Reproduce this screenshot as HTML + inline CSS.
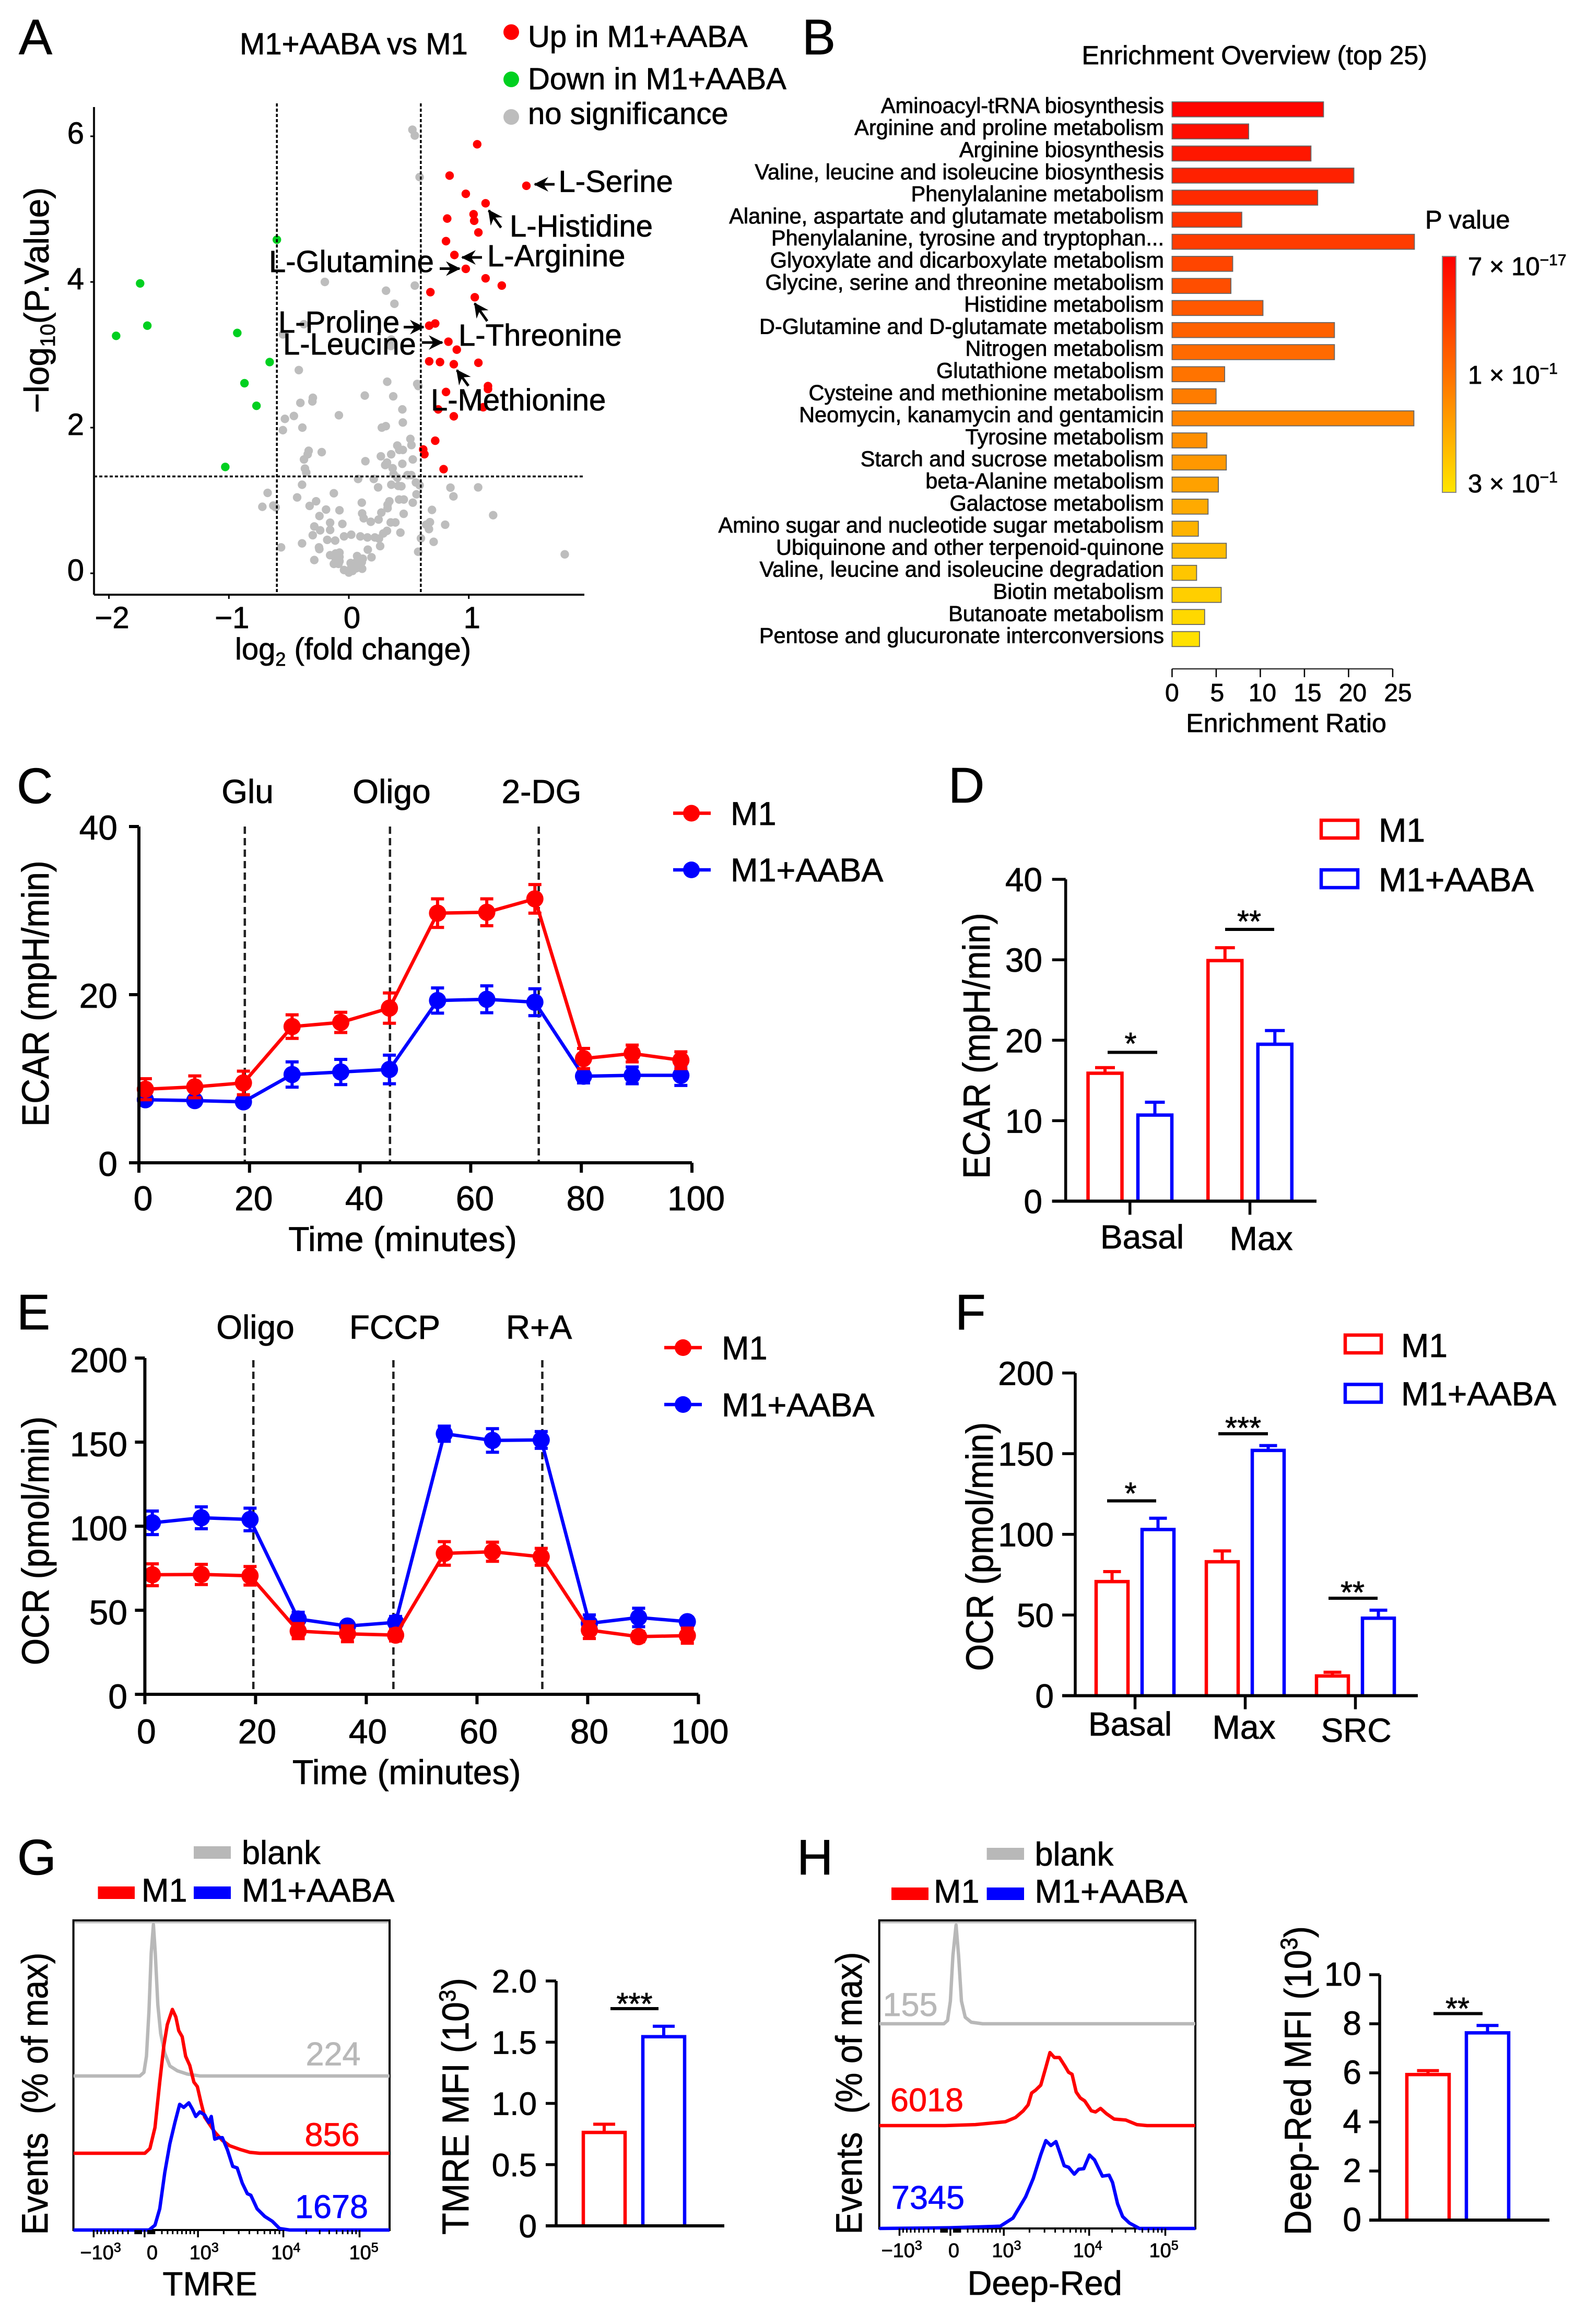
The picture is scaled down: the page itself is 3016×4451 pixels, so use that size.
<!DOCTYPE html>
<html lang="en">
<head>
<meta charset="utf-8">
<title>M1+AABA metabolism figure</title>
<style>
html,body{margin:0;padding:0;background:#fff;}
svg{display:block;}
text{font-family:"Liberation Sans",Arial,sans-serif;fill:#000;stroke:#000;stroke-width:0.8px;}
</style>
</head>
<body>
<svg id="fig" xmlns="http://www.w3.org/2000/svg" width="3016" height="4451" viewBox="0 0 3016 4451">
<defs>
<marker id="stealth" markerUnits="userSpaceOnUse" markerWidth="40" markerHeight="40" refX="26" refY="14" orient="auto">
<path d="M0,0 L28,14 L0,28 L9,14 Z" fill="#000"/>
</marker>
<linearGradient id="pgrad" x1="0" y1="0" x2="0" y2="1">
<stop offset="0" stop-color="#ff0000"/><stop offset="0.5" stop-color="#ff7000"/><stop offset="1" stop-color="#ffe600"/>
</linearGradient>
</defs>
<rect x="0" y="0" width="3016" height="4451" fill="#fff"/>

<g id="panelA"></g>
<g>
<text x="36" y="104" font-size="96">A</text>
<text x="459" y="104" font-size="58">M1+AABA vs M1</text>
<circle cx="979" cy="61.5" r="15" fill="#ff0000"/>
<text x="1011" y="90" font-size="58">Up in M1+AABA</text>
<circle cx="979" cy="152" r="15" fill="#00d020"/>
<text x="1011" y="171" font-size="58">Down in M1+AABA</text>
<circle cx="979" cy="224" r="15" fill="#bdbdbd"/>
<text x="1011" y="237.6" font-size="58">no significance</text>
<text x="676" y="1263" font-size="58" text-anchor="middle">log<tspan dy="12" font-size="36">2</tspan><tspan dy="-12"> (fold change)</tspan></text>
<text transform="translate(93,575) rotate(-90)" font-size="66" text-anchor="middle">−log<tspan dy="12" font-size="40">10</tspan><tspan dy="-12">(P.Value)</tspan></text>
<g stroke="#000" stroke-width="5" fill="none">
<line x1="1062" y1="353" x2="1024" y2="353" marker-end="url(#stealth)"/>
<line x1="959.5" y1="436" x2="936" y2="403" marker-end="url(#stealth)"/>
<line x1="923" y1="493" x2="885" y2="493" marker-end="url(#stealth)"/>
<line x1="842" y1="514.5" x2="880" y2="514.5" marker-end="url(#stealth)"/>
<line x1="773" y1="626.5" x2="811" y2="626.5" marker-end="url(#stealth)"/>
<line x1="808" y1="656" x2="847" y2="656" marker-end="url(#stealth)"/>
<line x1="933" y1="615" x2="909" y2="581" marker-end="url(#stealth)"/>
<line x1="897" y1="739" x2="875" y2="709" marker-end="url(#stealth)"/>
</g>
<text x="1069.5" y="367.5" font-size="58">L-Serine</text>
<text x="976" y="453" font-size="58">L-Histidine</text>
<text x="933" y="510" font-size="58">L-Arginine</text>
<text x="515" y="521" font-size="58">L-Glutamine</text>
<text x="533" y="637" font-size="58">L-Proline</text>
<text x="542" y="679" font-size="58">L-Leucine</text>
<text x="878" y="662" font-size="58">L-Threonine</text>
<text x="825" y="786" font-size="58">L-Methionine</text>
</g>

<g id="panelB"></g>
<g>
<text x="1536" y="104" font-size="96">B</text>
<text x="2071.5" y="123" font-size="50">Enrichment Overview (top 25)</text>
<text x="2463" y="1402" font-size="50" text-anchor="middle">Enrichment Ratio</text>
<text x="2729" y="437.5" font-size="49">P value</text>
<rect x="2762" y="491" width="26" height="452" fill="url(#pgrad)" stroke="#888" stroke-width="2"/>
<text x="2811" y="527" font-size="49">7 × 10<tspan dy="-19" font-size="30">−17</tspan></text>
<text x="2811" y="735" font-size="49">1 × 10<tspan dy="-19" font-size="30">−1</tspan></text>
<text x="2811" y="943" font-size="49">3 × 10<tspan dy="-19" font-size="30">−1</tspan></text>
</g>

<g id="panelC"></g>
<g>
<text x="32" y="1538" font-size="96">C</text>
<text x="474" y="1538" font-size="64" text-anchor="middle">Glu</text>
<text x="750" y="1538" font-size="64" text-anchor="middle">Oligo</text>
<text x="1037" y="1538" font-size="64" text-anchor="middle">2-DG</text>
<line x1="1289" y1="1557.5" x2="1361" y2="1557.5" stroke="#f00" stroke-width="6.5"/>
<circle cx="1324" cy="1557.5" r="16" fill="#f00"/>
<text x="1399" y="1580" font-size="63">M1</text>
<line x1="1289" y1="1666" x2="1361" y2="1666" stroke="#00f" stroke-width="6.5"/>
<circle cx="1324" cy="1666" r="16" fill="#00f"/>
<text x="1399" y="1688" font-size="63">M1+AABA</text>
<text x="771" y="2396" font-size="66" text-anchor="middle">Time (minutes)</text>
<text transform="translate(93,1903) rotate(-90) scale(1,1.1)" font-size="66" text-anchor="middle">ECAR (mpH/min)</text>
</g>

<g id="panelD"></g>
<g>
<text x="1816" y="1537" font-size="96">D</text>
<rect x="2530" y="1571" width="70" height="34" fill="#fff" stroke="#f00" stroke-width="6.5"/>
<text x="2640" y="1612" font-size="64">M1</text>
<rect x="2530" y="1666" width="70" height="34" fill="#fff" stroke="#00f" stroke-width="6.5"/>
<text x="2640" y="1707" font-size="64">M1+AABA</text>
<text transform="translate(1895,2003) rotate(-90) scale(1,1.1)" font-size="66" text-anchor="middle">ECAR (mpH/min)</text>
<line x1="2121" y1="2015.5" x2="2216" y2="2015.5" stroke="#000" stroke-width="6"/>
<text x="2165" y="2019" font-size="59" text-anchor="middle">*</text>
<line x1="2346" y1="1780" x2="2440" y2="1780" stroke="#000" stroke-width="6"/>
<text x="2392" y="1785" font-size="59" text-anchor="middle">**</text>
</g>

<g id="panelE"></g>
<g>
<text x="32" y="2546" font-size="96">E</text>
<text x="489" y="2564" font-size="64" text-anchor="middle">Oligo</text>
<text x="756" y="2564" font-size="64" text-anchor="middle">FCCP</text>
<text x="1032" y="2564" font-size="64" text-anchor="middle">R+A</text>
<line x1="1272" y1="2581" x2="1344" y2="2581" stroke="#f00" stroke-width="6.5"/>
<circle cx="1308" cy="2581" r="16" fill="#f00"/>
<text x="1382" y="2603.5" font-size="63">M1</text>
<line x1="1272" y1="2690" x2="1344" y2="2690" stroke="#00f" stroke-width="6.5"/>
<circle cx="1308" cy="2690" r="16" fill="#00f"/>
<text x="1382" y="2712.5" font-size="63">M1+AABA</text>
<text x="778.7" y="3417" font-size="66" text-anchor="middle">Time (minutes)</text>
<text transform="translate(93,2951) rotate(-90) scale(1,1.1)" font-size="66" text-anchor="middle">OCR (pmol/min)</text>
</g>

<g id="panelF"></g>
<g>
<text x="1829" y="2546" font-size="96">F</text>
<rect x="2576" y="2557" width="69" height="34" fill="#fff" stroke="#f00" stroke-width="6.5"/>
<text x="2683" y="2599" font-size="64">M1</text>
<rect x="2576" y="2651.5" width="69" height="34" fill="#fff" stroke="#00f" stroke-width="6.5"/>
<text x="2683" y="2691.5" font-size="64">M1+AABA</text>
<text transform="translate(1901,2962) rotate(-90) scale(1,1.1)" font-size="66" text-anchor="middle">OCR (pmol/min)</text>
<line x1="2120" y1="2874.5" x2="2214" y2="2874.5" stroke="#000" stroke-width="6"/>
<text x="2165" y="2880.5" font-size="59" text-anchor="middle">*</text>
<line x1="2333" y1="2746" x2="2428" y2="2746" stroke="#000" stroke-width="6"/>
<text x="2380.6" y="2755" font-size="59" text-anchor="middle">***</text>
<line x1="2544" y1="3061" x2="2638" y2="3061" stroke="#000" stroke-width="6"/>
<text x="2590" y="3070" font-size="59" text-anchor="middle">**</text>
</g>

<g id="panelG"></g>
<g>
<text x="33" y="3590" font-size="96">G</text>
<rect x="371" y="3536" width="71" height="24" fill="#b8b8b8"/>
<text x="463" y="3570" font-size="63">blank</text>
<rect x="187.5" y="3613" width="70.5" height="24" fill="#f00"/>
<text x="271" y="3642" font-size="63">M1</text>
<rect x="371" y="3613" width="71" height="24" fill="#00f"/>
<text x="463" y="3642" font-size="63">M1+AABA</text>
<text x="638" y="3955.5" font-size="63" text-anchor="middle" style="fill:#b8b8b8;stroke:#b8b8b8">224</text>
<text x="636" y="4110" font-size="63" text-anchor="middle" style="fill:#f00;stroke:#f00">856</text>
<text x="635" y="4248" font-size="63" text-anchor="middle" style="fill:#00f;stroke:#00f">1678</text>
<text x="402" y="4396" font-size="64" text-anchor="middle">TMRE</text>
<text transform="translate(91,4010) rotate(-90) scale(1,1.1)" font-size="64" text-anchor="middle">Events&#160;&#160;(% of max)</text>
<text transform="translate(897,4034) rotate(-90) scale(1,1.05)" font-size="68" text-anchor="middle">TMRE MFI (10<tspan dy="-24" font-size="42">3</tspan><tspan dy="24">)</tspan></text>
<line x1="1169" y1="3847" x2="1261" y2="3847" stroke="#000" stroke-width="6"/>
<text x="1215" y="3858" font-size="59" text-anchor="middle">***</text>
</g>

<g id="panelH"></g>
<g>
<text x="1526" y="3590" font-size="96">H</text>
<rect x="1889.6" y="3539" width="71.4" height="23" fill="#b8b8b8"/>
<text x="1981.5" y="3573" font-size="63">blank</text>
<rect x="1707" y="3615" width="71" height="24" fill="#f00"/>
<text x="1788" y="3644" font-size="63">M1</text>
<rect x="1889.6" y="3615" width="71.4" height="24" fill="#00f"/>
<text x="1981.5" y="3644" font-size="63">M1+AABA</text>
<text x="1743" y="3861" font-size="63" text-anchor="middle" style="fill:#b8b8b8;stroke:#b8b8b8">155</text>
<text x="1775" y="4043.5" font-size="63" text-anchor="middle" style="fill:#f00;stroke:#f00">6018</text>
<text x="1777" y="4230.5" font-size="63" text-anchor="middle" style="fill:#00f;stroke:#00f">7345</text>
<text x="2000.6" y="4395" font-size="65" text-anchor="middle">Deep-Red</text>
<text transform="translate(1650,4009) rotate(-90) scale(1,1.1)" font-size="64" text-anchor="middle">Events&#160;&#160;(% of max)</text>
<text transform="translate(2510,3985) rotate(-90) scale(1,1.08)" font-size="66" text-anchor="middle">Deep-Red MFI (10<tspan dy="-24" font-size="42">3</tspan><tspan dy="24">)</tspan></text>
<line x1="2745" y1="3856.5" x2="2839" y2="3856.5" stroke="#000" stroke-width="6"/>
<text x="2791" y="3867" font-size="59" text-anchor="middle">**</text>
</g>
</svg>

<script>
/* ---------- Panel A data ---------- */
const aUpX=[1.07,0.84,1.48,0.975,1.14,1.04,1.045,0.82,1.08,0.81,0.88,0.975,1.14,1.275,0.68,1.05,0.72,0.67,0.83,0.90,0.67,0.76,0.875,1.08,0.81,1.16,1.16,0.745,1.12,0.875,0.72,0.62,0.63,0.79];
const aUpY=[5.89,5.46,5.32,5.21,5.08,4.93,4.84,4.87,4.68,4.56,4.37,4.18,4.05,3.95,3.86,3.79,3.43,3.40,3.18,3.07,2.91,2.90,2.87,2.89,2.49,2.57,2.53,2.25,2.28,2.155,1.82,1.70,1.635,1.43];
const aDownX=[-0.60,-1.74,-1.68,-1.94,-0.93,-0.66,-0.87,-0.77,-1.03];
const aDownY=[4.58,3.98,3.40,3.26,3.30,2.90,2.61,2.30,1.46];
const aNsX=[0.53,0.55,0.59,0.55,-0.2,0.31,0.38,-0.375,-0.55,0.354,0.35,-0.417,0.32,0.57,0.58,0.133,0.37,-0.3,-0.304,-0.404,0.446,-0.083,-0.458,-0.533,0.45,-0.3875,-0.55,0.308,0.275,
0.513,0.522,0.404,0.42,0.45,0.353,0.267,0.533,0.138,0.446,0.318,0.303,0.365,0.373,0.404,0.489,0.52,0.077,0.208,0.559,0.59,0.354,0.412,0.438,0.244,0.847,1.078,0.872,0.564,0.419,0.458,0.338,0.323,0.323,0.271,0.533,0.108,0.457,0.248,0.111,0.124,0.183,0.349,0.388,0.693,0.676,0.645,0.668,0.803,1.203,0.318,0.287,0.43,0.02,-0.04,0.096,0.155,0.217,0.251,0.261,0.601,0.707,0.578,0.158,0.189,0.069,0.116,0.108,0.062,0.015,0.022,0.111,0.062,0.031,-0.008,0,-0.04,-0.078,-0.11,-0.156,-0.078,-0.11,-0.078,-0.125,-0.086,-0.288,-0.249,-0.246,-0.39,-0.565,-0.18,-0.114,-0.301,-0.239,-0.288,-0.156,-0.156,-0.054,-0.245,-0.19,-0.078,-0.327,-0.273,-0.125,-0.431,-0.39,-0.677,-0.721,-0.63,-0.61,-0.355,-0.366,-0.374,-0.343,-0.335,-0.226,1.8];
const aNsY=[6.09,6.01,5.44,3.95,4.0,3.88,3.70,3.42,3.28,3.21,3.12,2.79,2.63,2.60,2.57,2.44,2.43,2.41,2.36,2.34,2.25,2.17,2.16,2.12,2.07,2.0,1.965,2.02,2.0,
1.845,1.76,1.754,1.694,1.694,1.634,1.606,1.563,1.539,1.503,1.52,1.486,1.443,1.36,1.312,1.348,1.348,1.295,1.295,1.247,1.209,1.216,1.2,1.195,1.18,1.176,1.18,1.056,1.085,1.013,1.013,0.989,0.941,0.894,0.834,0.97,0.97,0.817,0.738,0.822,0.755,0.707,0.698,0.698,0.87,0.702,0.667,0.607,0.667,0.798,0.583,0.547,0.559,0.53,0.507,0.507,0.492,0.492,0.476,0.373,0.48,0.432,0.296,0.325,0.22,0.237,0.2,0.153,0.153,0.141,0.093,0.062,0.069,0.033,0.033,0.01,0.045,0.284,0.272,0.249,0.225,0.2,0.165,0.129,0.129,0.182,0.356,0.332,0.411,0.356,0.459,0.449,0.523,0.59,0.643,0.595,0.695,0.678,0.786,0.875,0.865,0.925,0.989,1.099,1.042,1.216,1.104,0.913,0.93,0.906,1.383,1.438,1.563,1.634,1.682,1.663,0.26];
const aXTicks=[-2,-1,0,1];
const aYTicks=[0,2,4,6];
const aFcCutoffs=[-0.6,0.6];
const aPCutoff=1.33;

/* ---------- Panel B data ---------- */
const bPathways=["Aminoacyl-tRNA biosynthesis","Arginine and proline metabolism","Arginine biosynthesis","Valine, leucine and isoleucine biosynthesis","Phenylalanine metabolism","Alanine, aspartate and glutamate metabolism","Phenylalanine, tyrosine and tryptophan...","Glyoxylate and dicarboxylate metabolism","Glycine, serine and threonine metabolism","Histidine metabolism","D-Glutamine and D-glutamate metabolism","Nitrogen metabolism","Glutathione metabolism","Cysteine and methionine metabolism","Neomycin, kanamycin and gentamicin","Tyrosine metabolism","Starch and sucrose metabolism","beta-Alanine metabolism","Galactose metabolism","Amino sugar and nucleotide sugar metabolism","Ubiquinone and other terpenoid-quinone","Valine, leucine and isoleucine degradation","Biotin metabolism","Butanoate metabolism","Pentose and glucuronate interconversions"];
const bRatios=[17.16,8.68,15.74,20.6,16.5,7.9,27.46,6.87,6.67,10.3,18.4,18.4,5.96,4.99,27.4,3.95,6.15,5.25,4.08,2.98,6.15,2.78,5.57,3.69,3.11];
const bTicks=[0,5,10,15,20,25];

/* ---------- Panel C data ---------- */
const cTime=[1.17,10.1,18.9,27.7,36.5,45.3,54,62.9,71.6,80.4,89.2,98];
const cM1=[8.75,9.03,9.5,16.2,16.7,18.4,29.7,29.8,31.4,12.4,13,12.2];
const cM1Err=[1.25,1.3,1.4,1.4,1.2,1.8,1.7,1.6,1.7,1.2,1,1];
const cAaba=[7.5,7.4,7.25,10.5,10.8,11.1,19.3,19.45,19.1,10.3,10.4,10.4];
const cAabaErr=[0.5,0.5,0.5,1.5,1.5,1.7,1.5,1.6,1.6,0.8,1,1.2];
const cInjections=[19.15,45.4,72.3];
const cXTicks=[0,20,40,60,80,100];
const cYTicks=[0,20,40];

/* ---------- Panel D data ---------- */
const dCategories=["Basal","Max"];
const dM1=[15.9,29.9];
const dM1Err=[0.7,1.6];
const dAaba=[10.7,19.5];
const dAabaErr=[1.6,1.7];
const dYTicks=[0,10,20,30,40];

/* ---------- Panel E data ---------- */
const eTime=[1.35,10.2,19,27.7,36.6,45.3,54.1,62.8,71.6,80.3,89.2,98];
const eM1=[71.1,71.3,70.5,37.6,36,35.2,83.8,84.8,81.8,38.2,34.3,34.9];
const eM1Err=[6.5,6,5.5,4.5,4.7,3.5,7,5.7,5,5,3,4.5];
const eAaba=[102,105,104,44.8,40.6,42.8,155,151,151.3,42.2,45.7,43.2];
const eAabaErr=[7,6.5,6.7,4,2,3.5,4.5,7,5,5,5.5,2.5];
const eInjections=[19.6,44.9,71.8];
const eXTicks=[0,20,40,60,80,100];
const eYTicks=[0,50,100,150,200];

/* ---------- Panel F data ---------- */
const fCategories=["Basal","Max","SRC"];
const fM1=[70.7,83,12.2];
const fM1Err=[6.2,6.7,2.3];
const fAaba=[103,152,48];
const fAabaErr=[7,3,5];
const fYTicks=[0,50,100,150,200];

/* ---------- Panel G data ---------- */
const gBlankCh=[0,210,223,231,239,246,253,259,267,276,289,305,329,360,400,1000];
const gBlankH=[0,0,2.4,13,43,81,100,81,47,28,15,6.6,3.4,1.3,0,0];
const gM1Ch=[0,226,242,258,273,286,297,313,324,333,344,355,368,381,392,403,415,431,447,471,494,526,558,589,1000];
const gM1H=[0,0,3.2,17,47,71,85,95,90,81,77,64,58,47,44,34,24,19,14,8.5,5,2.6,0.6,0,0];
const gAabaCh=[0,239,258,273,289,305,321,336,349,365,376,387,400,415,428,436,447,460,471,487,504,518,534,550,561,581,605,629,652,684,1000];
const gAabaH=[0,0,3.2,14,38,57,71,83,81,84,80,75,78,76,71,75,60,61,61,53,42,41,31,24,23,14,9,5.8,1,0,0];
const gBarM1=[0.763];
const gBarM1Err=[0.067];
const gBarAaba=[1.545];
const gBarAabaErr=[0.085];
const gYTicks=[0,0.5,1,1.5,2];
const gYTickLabels=["0","0.5","1.0","1.5","2.0"];

/* ---------- Panel H data ---------- */
const hBlankCh=[0,204.5,216,225,233,243,251,260,272,291,327,1000];
const hBlankH=[0,0,3.3,23,69,100,69,23,6.6,1.6,0,0];
const hM1Ch=[0,208,304,399,431,455,471,482,495,511,527,540,554,570,586,599,610,623,636,650,671,684,700,719,743,780,815,847,1000];
const hM1H=[0,0,1,3.9,8.2,14.8,21,33,36,41,59,74,69,69,61,54,52,34,28,25,15,13.8,17.4,12,6.6,5.6,1,0,0];
const hAabaCh=[0,224,383,423,463,487,511,527,543,559,572,585,599,617,631,647,665,681,706,727,738,754,770,791,823,1000];
const hAabaH=[0,0.7,2.3,10.5,32,50.5,74.8,89,84,88,76,63.6,62,55,60,60.6,74.4,69.5,53,54,46.6,25,12,5.6,0,0];
const hBarM1=[5.93];
const hBarM1Err=[0.16];
const hBarAaba=[7.63];
const hBarAabaErr=[0.3];
const hYTicks=[0,2,4,6,8,10];

/* Flow-cytometry axis */
const histMajorTicks=[64,225,394,664,905];
const histTickBase=["−10","0","10","10","10"];
const histTickExp=["3","","3","4","5"];

const NS="http://www.w3.org/2000/svg";
function mk(tag,parent,attrs){
  const n=document.createElementNS(NS,tag);
  for(const k in attrs){n.setAttribute(k,attrs[k]);}
  parent.appendChild(n);
  return n;
}
function drawLine(parent,x1,y1,x2,y2,w,c,dash){
  const l=mk('line',parent,{x1:x1,y1:y1,x2:x2,y2:y2,stroke:c,'stroke-width':w});
  if(dash){l.setAttribute('stroke-dasharray',dash);}
  return l;
}
function drawText(parent,x,y,str,size,anchor){
  const t=mk('text',parent,{x:x,y:y,'font-size':size,'text-anchor':anchor});
  t.textContent=str;
  return t;
}
function axisY(parent,ticks,labels,yFn,x,len,w,size,right,off){
  ticks.forEach(function(v,i){
    const tk=drawLine(parent,x-len,yFn(v),x,yFn(v),w,'#000');
    
    
    const lb=drawText(parent,right,yFn(v)+off,labels?labels[i]:String(v),size,'end');
    
    
  });
}
function axisX(parent,ticks,xFn,y,len,w,size,base,off,spread){
  ticks.forEach(function(v){
    const tk=drawLine(parent,xFn(v),y,xFn(v),y+len,w,'#000');
    
    
    const lb=drawText(parent,xFn(v)+off+(spread||0)*v,base,String(v).replace('-','−'),size,'middle');
    
    
  });
}

/* ---------- Panel A ---------- */
(function(){
  const g=document.getElementById('panelA');
  const x=function(v){return 668+229.7*v;};
  const y=function(v){return 1098-139.5*v;};
  function scatter(xs,ys,color,name){
    xs.forEach(function(v,i){
      const c=mk('circle',g,{cx:x(v),cy:y(ys[i]),r:8.2,fill:color});
      
      
    });
  }
  scatter(aNsX,aNsY,'#bdbdbd','point-not-significant');
  scatter(aUpX,aUpY,'#ff0000','point-up');
  scatter(aDownX,aDownY,'#00d020','point-down');
  aFcCutoffs.forEach(function(v){
    const l=drawLine(g,x(v),198,x(v),1139,3.5,'#000','6 4');
    
    
  });
  const h=drawLine(g,180,y(aPCutoff),1118,y(aPCutoff),3.5,'#000','6 4');
  
  
  const ya=drawLine(g,180,205,180,1139,4,'#111');
  
  
  const xa=drawLine(g,180,1139,1119,1139,4,'#111');
  
  
  axisY(g,aYTicks,null,y,180,7,3,58,161,14);
  axisX(g,aXTicks,x,1139,8,3,58,1203,6);
})();

/* ---------- Panel B ---------- */
(function(){
  const g=document.getElementById('panelB');
  const x=function(v){return 2244.4+16.9*v;};
  const bandTop=function(i){return 195.1+42.27*i;};
  bPathways.forEach(function(name,i){
    const lb=drawText(g,2229,216.4+42.3*i,name,41.5,'end');
    
    
    const fill='rgb(255,'+Math.round(5+220*i/(bPathways.length-1))+',0)';
    const r=mk('rect',g,{x:x(0),y:bandTop(i),width:x(bRatios[i])-x(0),height:28.7,fill:fill,stroke:'#666','stroke-width':1.8});
    
    
  });
  const xa=drawLine(g,x(bTicks[0]),1281,x(bTicks[bTicks.length-1]),1281,2.5,'#333');
  
  
  axisX(g,bTicks,x,1281,16,2.5,48,1343,0,0.4);
})();

/* ---------- Panels C, E ---------- */
function drawKinetics(g,opts,time,m1,m1e,ab,abe,inj,xt,yt){
  const x=opts.x,y=opts.y;
  inj.forEach(function(t){
    const l=drawLine(g,x(t),opts.top,x(t),y(0),4.5,'#222','14 8');
    
    
  });
  function series(vals,errs,color,name){
    const pts=vals.map(function(v,i){return x(time[i])+','+y(v);}).join(' ');
    const pl=mk('polyline',g,{points:pts,fill:'none',stroke:color,'stroke-width':6.5,'stroke-linejoin':'round'});
    
    
    vals.forEach(function(v,i){
      const px=x(time[i]);
      const p=mk('path',g,{d:'M'+(px-12.5)+','+y(v+errs[i])+'H'+(px+12.5)+'M'+px+','+y(v+errs[i])+'V'+y(v-errs[i])+'M'+(px-12.5)+','+y(v-errs[i])+'H'+(px+12.5),fill:'none',stroke:color,'stroke-width':6});
      
      
      const c=mk('circle',g,{cx:px,cy:y(v),r:16.5,fill:color});
      
      
    });
  }
  series(ab,abe,'#0000ff','m1-aaba');
  series(m1,m1e,'#ff0000','m1');
  const ya=drawLine(g,x(0),y(yt[yt.length-1]),x(0),y(0),6,'#000');
  
  
  const xa=drawLine(g,x(0),y(0),x(100),y(0),6,'#000');
  
  
  axisY(g,yt,null,y,x(0),19,6,66,opts.right,opts.yOff);
  axisX(g,xt,x,y(0),19,6,66,opts.base,opts.xOff);
}
drawKinetics(document.getElementById('panelC'),{x:function(v){return 266+10.59*v;},y:function(v){return 2227-16.1*v;},top:1583,right:225,yOff:25,base:2318,xOff:8},cTime,cM1,cM1Err,cAaba,cAabaErr,cInjections,cXTicks,cYTicks);
drawKinetics(document.getElementById('panelE'),{x:function(v){return 277.4+10.6*v;},y:function(v){return 3245-3.22*v;},top:2605,right:244,yOff:27,base:3339,xOff:3},eTime,eM1,eM1Err,eAaba,eAabaErr,eInjections,eXTicks,eYTicks);

/* ---------- Bar panels ---------- */
function drawBars(g,o,m1,m1e,ab,abe){
  const y=o.y;
  function bar(cx,v,e,color,name){
    const hw=o.width/2;
    const b=mk('path',g,{d:'M'+(cx-hw)+','+y(0)+'V'+y(v)+'H'+(cx+hw)+'V'+y(0),fill:'#fff',stroke:color,'stroke-width':6.5});
    
    
    const eb=mk('path',g,{d:'M'+cx+','+y(v)+'V'+y(v+e)+'M'+(cx-o.cap)+','+y(v+e)+'H'+(cx+o.cap),fill:'none',stroke:color,'stroke-width':6});
    
    
  }
  m1.forEach(function(v,i){
    const c=o.center(i);
    bar(c-o.off,v,m1e[i],'#ff0000','m1');
    bar(c+o.off,ab[i],abe[i],'#0000ff','m1-aaba');
  });
  const ya=drawLine(g,o.axisX,y(o.ticks[o.ticks.length-1]),o.axisX,y(0),5.5,'#000');
  
  
  const xa=drawLine(g,o.axisX-o.tick,y(0),o.axisEnd,y(0),6,'#000');
  
  
  axisY(g,o.ticks,o.labels,y,o.axisX,o.tick,5.5,o.size,o.right,o.yOff);
  if(o.cats){
    o.cats.forEach(function(name,i){
      const t=drawLine(g,o.center(i),y(0),o.center(i),y(0)+26,5.5,'#000');
      
      
      const lb=drawText(g,o.catX[i],o.catY[i],name,64,'middle');
      
      
    });
  }
}
drawBars(document.getElementById('panelD'),{y:function(v){return 2300.5-15.41*v;},center:function(i){return 2163.75+229.75*i;},off:47.75,width:65,cap:19,axisX:2040.7,axisEnd:2521,tick:26,ticks:dYTicks,size:64,right:1996,yOff:23,cats:dCategories,catX:[2187,2415],catY:[2391,2394]},dM1,dM1Err,dAaba,dAabaErr);
drawBars(document.getElementById('panelF'),{y:function(v){return 3247.6-3.09*v;},center:function(i){return 2173.5+211*i;},off:44,width:61,cap:17,axisX:2059,axisEnd:2715,tick:25,ticks:fYTicks,size:64,right:2018,yOff:23,cats:fCategories,catX:[2164,2382,2597],catY:[3324,3330,3336]},fM1,fM1Err,fAaba,fAabaErr);
drawBars(document.getElementById('panelG'),{y:function(v){return 4263-234.5*v;},center:function(){return 1214;},off:57,width:80,cap:21,axisX:1065,axisEnd:1387,tick:20,ticks:gYTicks,labels:gYTickLabels,size:62,right:1028,yOff:22},gBarM1,gBarM1Err,gBarAaba,gBarAabaErr);
drawBars(document.getElementById('panelH'),{y:function(v){return 4252-47*v;},center:function(){return 2791.5;},off:57,width:81,cap:21,axisX:2642,axisEnd:2967,tick:20,ticks:hYTicks,size:64,right:2607,yOff:21},hBarM1,hBarM1Err,hBarAaba,hBarAabaErr);

/* ---------- Histogram panels ---------- */
function drawHist(g,o,curves){
  const x=function(c){return o.left+(o.right-o.left)*c/1000;};
  const fr=mk('rect',g,{x:o.left,y:o.top,width:o.right-o.left,height:o.bottom-o.top,fill:'none',stroke:'#000','stroke-width':4});
  
  
  const sh=drawLine(g,o.left+2,o.top+4,o.right-2,o.top+4,3,'#bbbbbb');
  
  
  curves.forEach(function(s){
    const pts=s.ch.map(function(c,i){return x(c)+','+(s.base-s.h[i]*o.scale);}).join(' ');
    const pl=mk('polyline',g,{points:pts,fill:'none',stroke:s.color,'stroke-width':6.5,'stroke-linejoin':'round'});
    
    
  });
  const minor=[];
  for(let m=2;m<=9;m++){
    minor.push(394+270*Math.log10(m));
    minor.push(664+241*Math.log10(m));
    minor.push(225+169*Math.pow(m/10,0.7));
    minor.push(225-161*Math.pow(m/10,0.7));
    minor.push(225+169*Math.pow(m/100,0.7));
    minor.push(225-161*Math.pow(m/100,0.7));
  }
  minor.forEach(function(c){
    const t=drawLine(g,x(c),o.bottom,x(c),o.bottom+8,3,'#000');
    
    
  });
  histMajorTicks.forEach(function(c,i){
    const t=drawLine(g,x(c),o.bottom,x(c),o.bottom+14,3.5,'#000');
    
    
    const lb=mk('text',g,{x:x(c)+o.labelOff[i],y:o.labelY,'font-size':38,'text-anchor':'start'});
    lb.textContent=histTickBase[i];
    
    
    if(histTickExp[i]){
      const sup=mk('tspan',lb,{dy:-14,'font-size':25});
      sup.textContent=histTickExp[i];
    }
  });
}
drawHist(document.getElementById('panelG'),{left:140.6,right:746,top:3678,bottom:4271,scale:2.9,labelY:4327,labelOff:[-26,4,-16.5,-23.5,-20]},[
  {ch:gBlankCh,h:gBlankH,base:3976,color:'#b8b8b8',name:'blank-histogram'},
  {ch:gM1Ch,h:gM1H,base:4124,color:'#ff0000',name:'m1-histogram'},
  {ch:gAabaCh,h:gAabaH,base:4271,color:'#0000ff',name:'m1-aaba-histogram'}
]);
drawHist(document.getElementById('panelH'),{left:1683.7,right:2289,top:3678,bottom:4268,scale:1.89,labelY:4323,labelOff:[-35,-4,-23,-31,-31]},[
  {ch:hBlankCh,h:hBlankH,base:3876,color:'#b8b8b8',name:'blank-histogram'},
  {ch:hM1Ch,h:hM1H,base:4071,color:'#ff0000',name:'m1-histogram'},
  {ch:hAabaCh,h:hAabaH,base:4268,color:'#0000ff',name:'m1-aaba-histogram'}
]);
</script>
</body>
</html>
